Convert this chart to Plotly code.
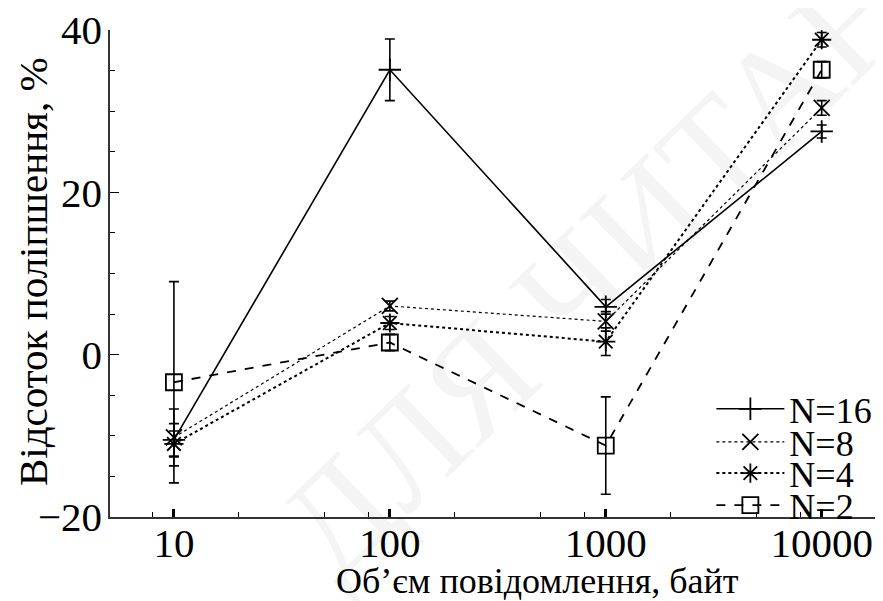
import plotly.graph_objects as go

x_bytes = [10, 100, 1000, 10000]
tick_labels = ["10", "100", "1000", "10000"]

n16 = [-10.5, 35.1, 5.9, 27.5]
n16_err = [2.0, 3.8, 0.9, 0.8]
n8 = [-10.2, 6.0, 4.1, 30.4]
n8_err = [3.5, 0.6, 1.2, 0.9]
n4 = [-11.0, 3.9, 1.6, 38.8]
n4_err = [1.6, 0.8, 1.7, 0.9]
n2 = [-3.4, 1.5, -11.2, 35.1]
n2_err = [12.4, 1.0, 6.0, 1.0]

series = [
    ("N=16", n16, n16_err, "solid", "cross-thin-open", 1.6, "legend"),
    ("N=8", n8, n8_err, "dot", "x-thin-open", 1.2, "legend2"),
    ("N=4", n4, n4_err, "dot", "asterisk-open", 2.0, "legend3"),
    ("N=2", n2, n2_err, "dash", "square-open", 1.8, "legend4"),
]

font_family = "Liberation Serif, Times New Roman, serif"

fig = go.Figure()
for name, ys, errs, dash, sym, lw, lg in series:
    fig.add_trace(go.Scatter(
        x=x_bytes, y=ys, name=name, mode="lines+markers", legend=lg,
        line=dict(color="black", width=lw, dash=dash),
        marker=dict(symbol=sym, size=16, color="black",
                    line=dict(color="black", width=1.8)),
        error_y=dict(type="data", array=errs, visible=True,
                     color="black", thickness=1.6, width=5),
        cliponaxis=False,
    ))

# faint watermark in the background
fig.add_annotation(
    text="ДЛЯ ЧИТАННЯ", xref="paper", yref="paper", x=0.725, y=0.66,
    xanchor="center", yanchor="middle",
    showarrow=False, textangle=-44,
    font=dict(family=font_family, size=145, color="rgba(0,0,0,0.045)"),
)

# axis titles
fig.add_annotation(
    text="Об’єм повідомлення, байт", xref="paper", yref="paper",
    x=0.555, y=-0.131, xanchor="center", yanchor="middle", showarrow=False,
    font=dict(family=font_family, size=36, color="black"),
)
fig.add_annotation(
    text="Відсоток поліпшення, %", xref="paper", yref="paper",
    x=-0.100, y=0.503, xanchor="center", yanchor="middle", showarrow=False,
    textangle=-90, font=dict(family=font_family, size=41, color="black"),
)

leg_common = dict(xanchor="left", yanchor="middle", bgcolor="rgba(0,0,0,0)",
                  font=dict(size=36, family=font_family, color="black"),
                  itemwidth=68)
leg_x = 0.781

fig.update_layout(
    width=875, height=593,
    margin=dict(l=102, r=3, t=22, b=84, autoexpand=False),
    paper_bgcolor="white", plot_bgcolor="white",
    font=dict(family=font_family, size=40, color="black"),
    showlegend=True,
    legend=dict(x=leg_x, y=0.222, **leg_common),
    legend2=dict(x=leg_x, y=0.154, **leg_common),
    legend3=dict(x=leg_x, y=0.090, **leg_common),
    legend4=dict(x=leg_x, y=0.024, **leg_common),
    xaxis=dict(
        type="log", range=[0.704, 4.27], automargin=False,
        tickmode="array", tickvals=x_bytes, ticktext=tick_labels,
        ticks="inside", ticklen=8, tickwidth=2.5, tickcolor="black",
        showline=True, linecolor="#333", linewidth=1.5,
        showgrid=False, zeroline=False, ticklabelstandoff=-11,
        ticklabeloverflow="allow",
        minor=dict(tickvals=[8, 20, 50, 80, 200, 500, 800, 2000, 5000, 8000],
                   ticks="inside", ticklen=5, tickwidth=1, tickcolor="black"),
        tickfont=dict(size=41),
    ),
    yaxis=dict(
        range=[-20, 40], tickvals=[-20, 0, 20, 40], automargin=False,
        ticks="inside", ticklen=9, tickwidth=1.2, tickcolor="black",
        showline=True, linecolor="#333", linewidth=1.5,
        showgrid=False, zeroline=False, ticklabelstandoff=-2,
        ticklabeloverflow="allow",
        minor=dict(dtick=5, tick0=0, ticks="inside", ticklen=5, tickwidth=1, tickcolor="black"),
        tickfont=dict(size=41),
    ),
)

fig.write_html("out.html")
